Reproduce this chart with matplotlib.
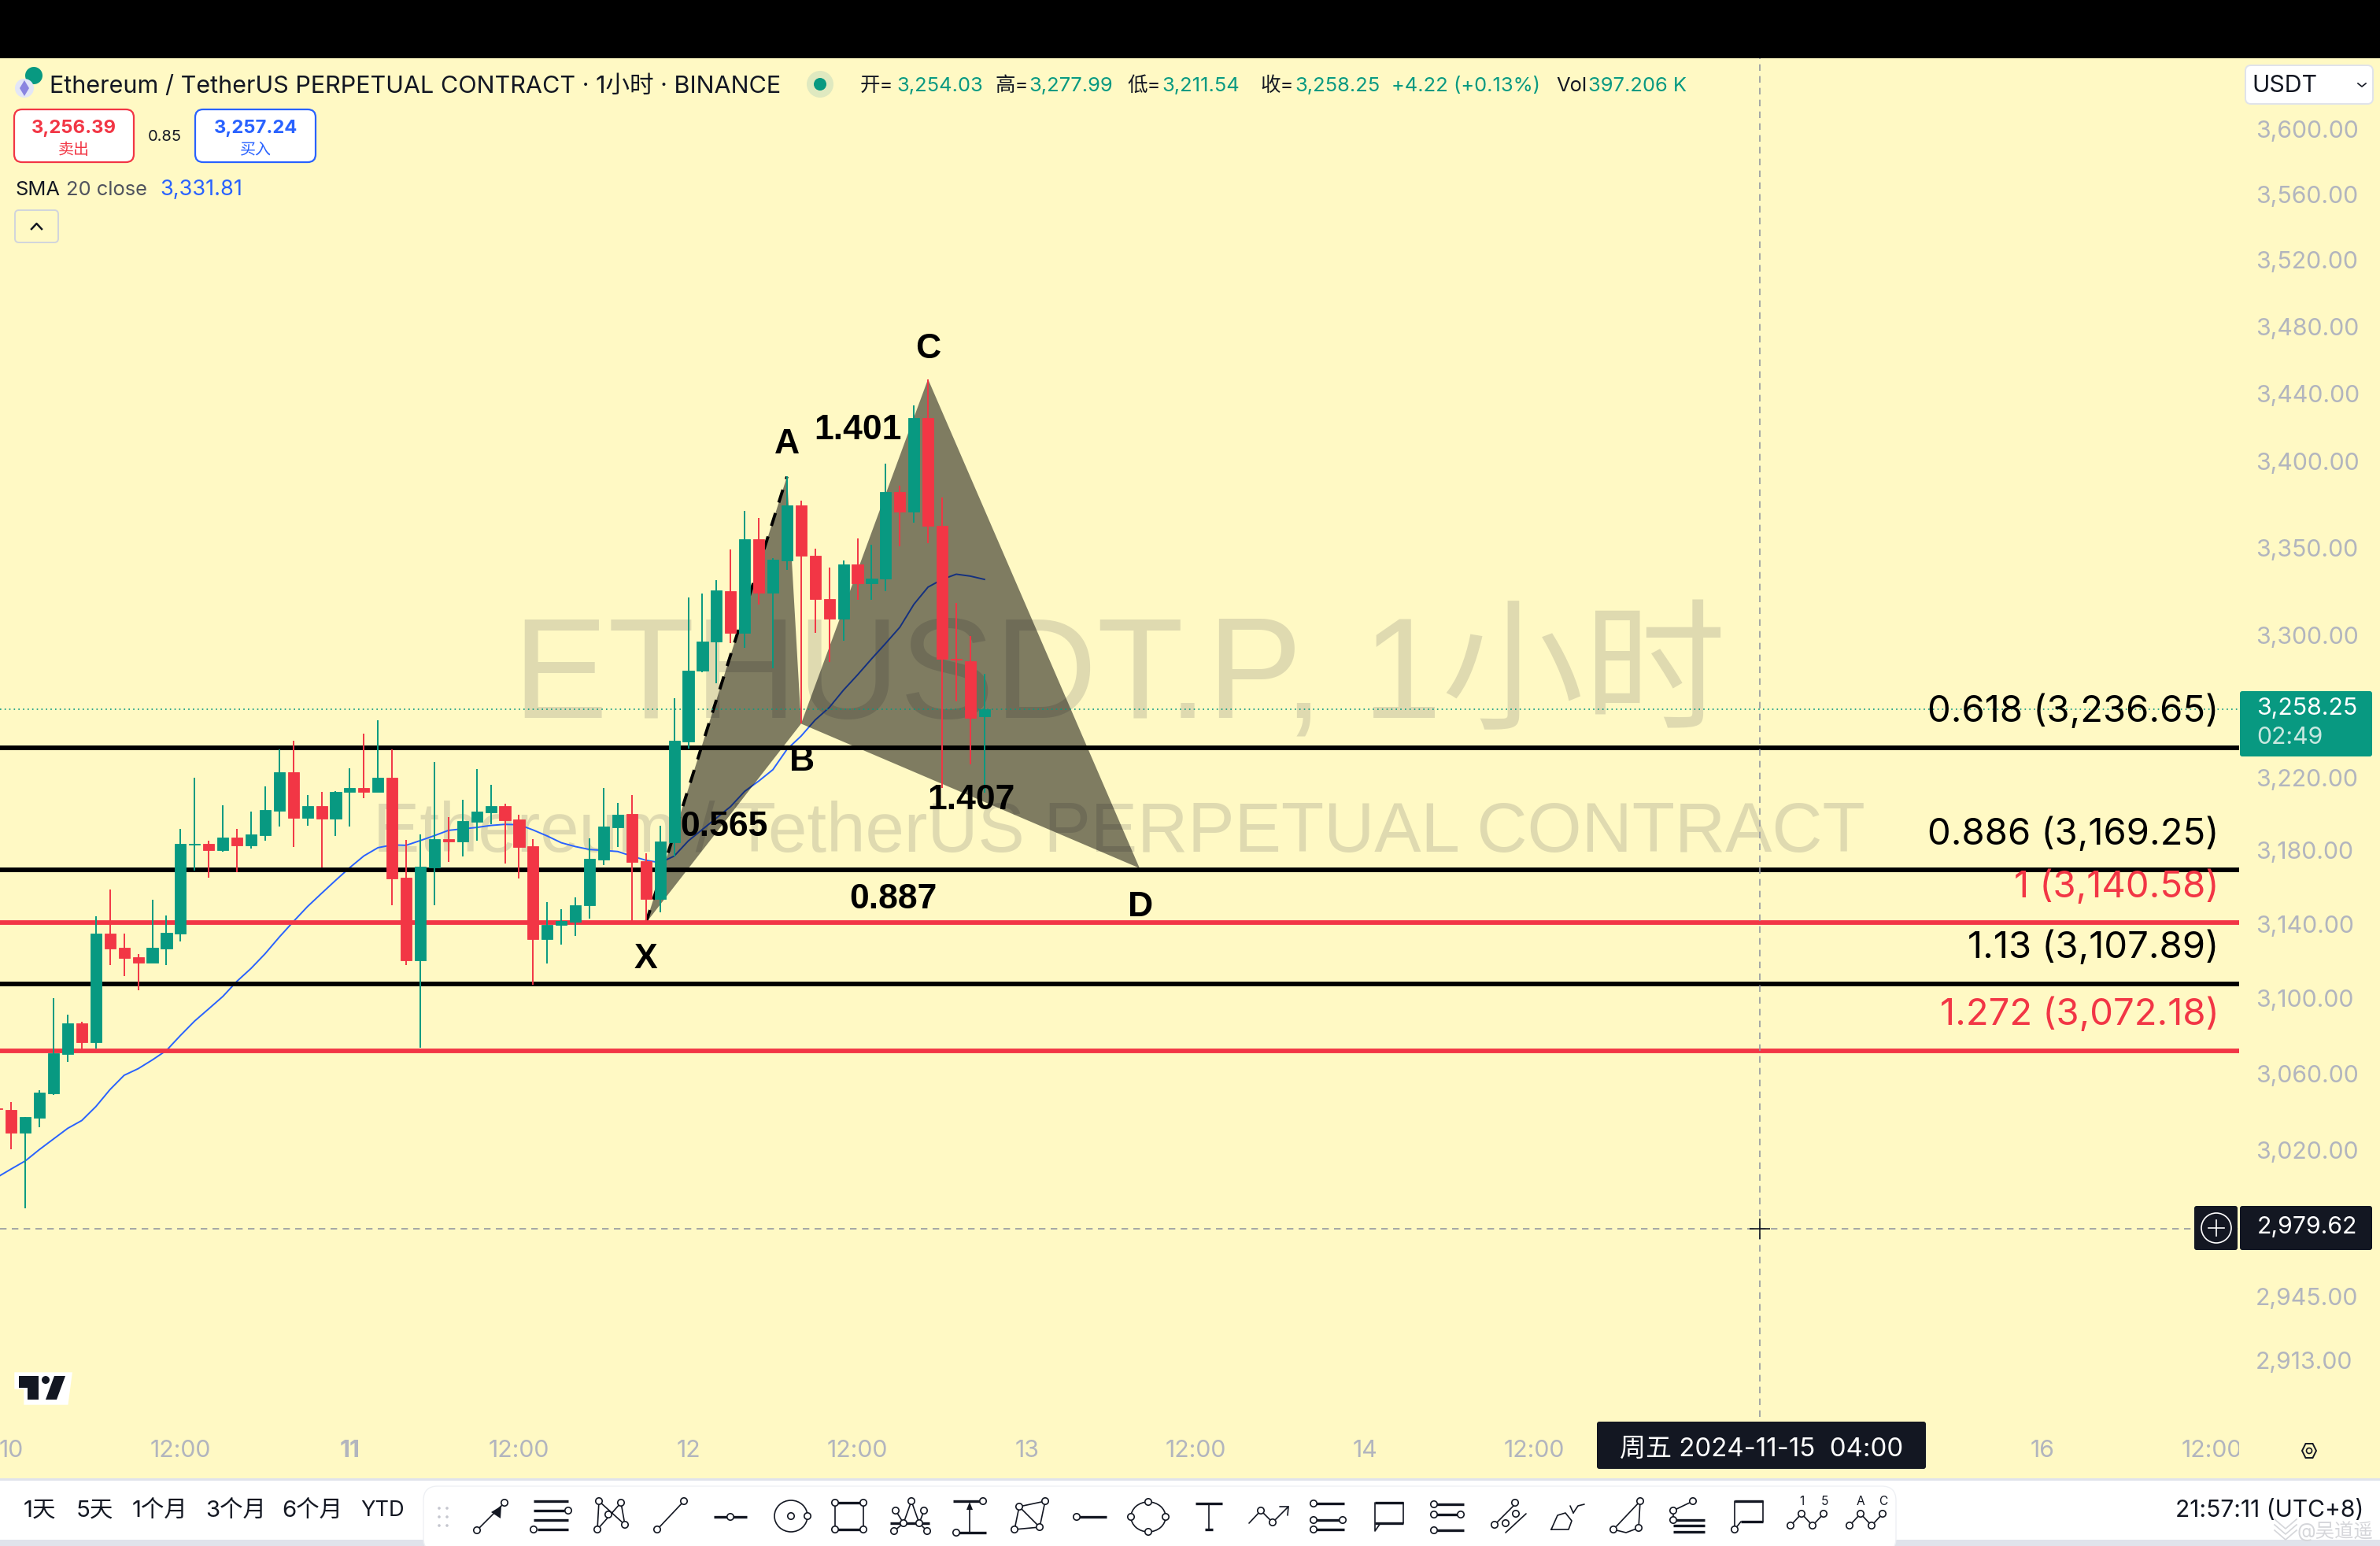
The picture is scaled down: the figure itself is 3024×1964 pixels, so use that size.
import numpy as np
import matplotlib
matplotlib.use('Agg')
import matplotlib.pyplot as plt
from matplotlib.patches import Rectangle, FancyBboxPatch, Circle, Ellipse, Polygon

plt.rcParams['font.family'] = ['Inter', 'Noto Sans CJK SC', 'DejaVu Sans']

# bars: one hour each, bar 1 = 2024-11-10 00:00
opens = [3041.8, 3041.3, 3029.1, 3037.0, 3050.0, 3070.5, 3086.8, 3076.7, 3134.8, 3127.1, 3122.1, 3119.3, 3126.8,
         3134.8, 3183.2, 3183.6, 3180.1, 3187.1, 3182.6, 3188.5, 3201.9, 3223.2, 3198.0, 3204.4, 3197.6, 3212.0,
         3214.5, 3212.4, 3220.1, 3165.0, 3120.4, 3170.6, 3186.2, 3185.0, 3195.9, 3201.1, 3204.4, 3197.0, 3182.3,
         3131.8, 3139.3, 3141.0, 3150.0, 3174.9, 3192.8, 3200.1, 3174.0, 3153.6, 3184.5, 3240.3, 3279.7, 3296.3,
         3325.2, 3301.1, 3355.0, 3324.1, 3342.7, 3374.7, 3345.3, 3320.6, 3309.5, 3340.5, 3329.8, 3332.2, 3382.4,
         3371.1, 3425.8, 3362.5, 3286.6, 3285.2, 3254.03]
highs = [3041.9, 3045.3, 3037.6, 3051.6, 3100.0, 3091.5, 3087.8, 3144.0, 3158.5, 3134.8, 3123.8, 3153.0, 3144.8,
         3191.8, 3220.1, 3185.4, 3205.0, 3191.8, 3201.5, 3215.3, 3235.9, 3240.6, 3210.6, 3212.0, 3212.8, 3225.4,
         3244.7, 3252.1, 3235.9, 3185.8, 3188.9, 3228.9, 3198.4, 3207.9, 3225.0, 3216.3, 3205.8, 3199.4, 3186.2,
         3151.7, 3147.8, 3154.4, 3186.8, 3214.5, 3206.2, 3210.4, 3178.3, 3193.6, 3264.6, 3321.5, 3323.6, 3331.5,
         3349.1, 3371.4, 3367.2, 3344.0, 3391.3, 3377.5, 3349.3, 3338.8, 3342.7, 3355.5, 3351.7, 3399.0, 3386.2,
         3433.2, 3448.6, 3379.1, 3318.4, 3299.5, 3277.99]
lows = [3041.3, 3020.5, 2990.1, 3031.9, 3049.1, 3066.5, 3072.9, 3073.5, 3118.0, 3111.8, 3104.3, 3119.0, 3118.0,
        3130.5, 3168.9, 3165.2, 3179.5, 3167.9, 3180.9, 3185.4, 3193.1, 3181.7, 3193.5, 3170.6, 3187.9, 3193.1,
        3208.7, 3212.0, 3150.3, 3118.0, 3073.9, 3150.0, 3173.5, 3176.6, 3185.4, 3194.3, 3172.8, 3164.5, 3107.5,
        3118.7, 3128.8, 3133.5, 3143.1, 3171.8, 3181.9, 3140.6, 3140.6, 3146.1, 3176.9, 3236.4, 3279.2, 3273.0,
        3295.4, 3293.0, 3317.3, 3281.4, 3337.2, 3250.1, 3301.1, 3285.0, 3296.7, 3320.2, 3320.2, 3325.0, 3350.8,
        3364.7, 3352.6, 3214.2, 3262.7, 3227.3, 3211.54]
closes = [3041.4, 3029.1, 3037.6, 3050.3, 3071.1, 3086.8, 3076.7, 3134.8, 3126.8, 3121.7, 3119.3, 3127.1, 3135.2,
          3183.6, 3183.8, 3180.1, 3187.1, 3182.6, 3188.9, 3202.3, 3223.2, 3198.0, 3204.4, 3197.6, 3212.4, 3214.5,
          3212.4, 3220.1, 3164.5, 3120.4, 3171.0, 3186.2, 3185.0, 3196.3, 3201.5, 3204.4, 3196.6, 3181.9, 3131.8,
          3139.6, 3141.5, 3150.3, 3175.3, 3193.1, 3199.8, 3173.7, 3153.6, 3185.0, 3240.7, 3279.9, 3296.5, 3325.6,
          3301.1, 3355.0, 3324.1, 3343.1, 3374.7, 3345.5, 3320.4, 3309.5, 3340.5, 3329.8, 3332.2, 3382.4, 3371.1,
          3425.8, 3362.5, 3286.6, 3285.9, 3253.5, 3258.25]
sma = [3006.1, 3010.4, 3014.6, 3020.5, 3026.0, 3031.5, 3035.6, 3042.9, 3051.8, 3059.3, 3062.8, 3067.4, 3072.4,
       3080.4, 3088.0, 3094.5, 3101.1, 3109.2, 3116.1, 3124.0, 3132.9, 3141.3, 3149.4, 3156.6, 3163.7, 3170.6,
       3177.0, 3181.5, 3183.0, 3182.8, 3185.4, 3188.1, 3191.0, 3191.8, 3192.6, 3193.7, 3194.3, 3194.1, 3191.2,
       3187.9, 3184.2, 3182.1, 3180.5, 3180.0, 3179.4, 3176.9, 3174.6, 3173.3, 3176.9, 3185.2, 3191.5, 3197.8,
       3204.1, 3212.5, 3218.2, 3224.5, 3235.8, 3243.2, 3252.2, 3259.2, 3268.9, 3277.5, 3286.6, 3295.4, 3304.5,
       3317.6, 3327.4, 3331.8, 3334.8, 3333.7, 3331.81]

# harmonic pattern X, A, B, C, D
pattern_bar = [46, 56, 57, 66, 81]
pattern_price = [3140.6, 3391.3, 3250.1, 3448.6, 3170.3]

level_prices = [3236.65, 3169.25, 3140.58, 3107.89, 3072.18]
level_names = ['0.618 (3,236.65)', '0.886 (3,169.25)', '1 (3,140.58)', '1.13 (3,107.89)', '1.272 (3,072.18)']
level_red = [False, False, True, False, True]

last_price = 3258.25
cross_price = 2979.62
cross_bar = 125

price_ticks = [3600, 3560, 3520, 3480, 3440, 3400, 3350, 3300, 3220, 3180, 3140, 3100, 3060, 3020, 2945, 2913]
time_ticks = [1, 13, 25, 37, 49, 61, 73, 85, 97, 109, 145, 157]
time_labels = ['10', '12:00', '11', '12:00', '12', '12:00', '13', '12:00', '14', '12:00', '16', '12:00']

BG = '#fff9c4'
GREEN = '#089981'
RED = '#f23645'
BLUE = '#2962ff'
INK = '#131722'
AXIS = '#b2b5be'
WM = '#dfdab0'
CJK = ['Inter', 'Noto Sans CJK SC', 'DejaVu Sans']

fig = plt.figure(figsize=(15.12, 9.82), dpi=200, facecolor=BG)
ax = fig.add_axes([0, 1 - 1815 / 1964, 2845 / 3024, (1815 - 74) / 1964], facecolor=BG)
ax.set_yscale('log')
ax.set_ylim(2878.8, 3644.4)
ax.set_xlim(0.2, 158.96)
for s in ax.spines.values():
    s.set_visible(False)

ax.yaxis.tick_right()
ax.set_yticks(price_ticks)
ax.set_yticklabels([f'{p:,.2f}' for p in price_ticks], fontsize=10.9, color=AXIS)
ax.minorticks_off()
ax.set_xticks(time_ticks)
ax.set_xticklabels(time_labels, fontsize=10.9, color=AXIS)
ax.get_xticklabels()[2].set_fontweight('bold')
ax.tick_params(axis='y', length=0, pad=7.6)
ax.tick_params(axis='x', length=0, pad=5)

# big symbol watermark
ax.text(652 / 2845, 1 - (863 - 74) / 1741, 'ETHUSDT.P, 1小时', transform=ax.transAxes, fontsize=65, color=WM,
        family=['Liberation Sans', 'Noto Sans CJK SC'], ha='left', va='center', zorder=1)
ax.text(474 / 2845, 1 - (1059 - 74) / 1741, 'Ethereum / TetherUS PERPETUAL CONTRACT', transform=ax.transAxes,
        fontsize=32, color=WM, family='Liberation Sans', ha='left', va='center', zorder=1)

ax.plot(range(len(sma)), sma, color=BLUE, lw=0.7, zorder=2)

# pattern triangles
xs, ys = pattern_bar, pattern_price
ax.fill(xs[:3], ys[:3], color='black', alpha=0.5, lw=0, zorder=3)
ax.fill(xs[2:], ys[2:], color='black', alpha=0.5, lw=0, zorder=3)
ax.plot(xs[:2], ys[:2], color='black', lw=1.4, ls=(0, (4.4, 3.6)), zorder=3.5)

# fib levels
for price, name, is_red in zip(level_prices, level_names, level_red):
    col = RED if is_red else 'black'
    ax.axhline(price, color=col, lw=2.1, zorder=4)
    ax.annotate(name, xy=(1, price), xycoords=('axes fraction', 'data'), xytext=(-9.2, 16.2), textcoords='offset points',
                ha='right', va='center', fontsize=17, color=col, zorder=9)

ax.axhline(last_price, color=GREEN, lw=0.6, ls=(0, (1, 2.5)), zorder=4)

# candles
for i, (o, h, l, c) in enumerate(zip(opens, highs, lows, closes)):
    col = GREEN if c >= o else RED
    ax.vlines(i, l, h, color=col, lw=0.7, zorder=5)
    ax.bar(i, abs(c - o), bottom=min(o, c), width=0.79, color=col, edgecolor=col, lw=0.3, zorder=6)

# crosshair
ax.axvline(cross_bar, color='#9598a1', lw=0.6, ls=(0, (5, 4)), zorder=7)
ax.axhline(cross_price, color='#9598a1', lw=0.6, ls=(0, (5, 4)), zorder=7)
ax.plot([cross_bar], [cross_price], marker='+', ms=9.4, mew=0.6, color=INK, zorder=8)

# everything else sits on a pixel overlay
ui = fig.add_axes([0, 0, 1, 1], facecolor='none')
ui.set_xlim(0, 3024)
ui.set_ylim(1964, 0)
ui.axis('off')


def box(x0, y0, x1, y1, fc, ec='none', lw=0, r=0, z=2):
    if r:
        p = FancyBboxPatch((x0 + r, y0 + r), x1 - x0 - 2 * r, y1 - y0 - 2 * r, boxstyle=f'round,pad={r},rounding_size={r}',
                           fc=fc, ec=ec, lw=lw, zorder=z)
    else:
        p = Rectangle((x0, y0), x1 - x0, y1 - y0, fc=fc, ec=ec, lw=lw, zorder=z)
    ui.add_patch(p)


def label(x, y, s, size=10, color=INK, ha='left', weight='normal', family=None, z=5):
    ui.text(x, y + 3, s, fontsize=size, color=color, ha=ha, va='center', fontweight=weight, family=family or CJK, zorder=z)


box(0, 0, 3024, 74, 'black')

# pattern labels
for (x, y, s) in [(1000, 562, 'A'), (1019, 964, 'B'), (1179, 440, 'C'), (1449, 1150, 'D'), (820, 1215, 'X'),
                  (1090, 543, '1.401'), (920, 1047, '0.565'), (1234, 1014, '1.407'), (1135, 1140, '0.887')]:
    label(x, y, s, size=16, color='black', ha='center', weight='bold', family='Liberation Sans')

# header
ui.add_patch(Circle((43, 96), 11, fc='#089981', zorder=3))
ui.add_patch(Circle((31, 112), 12, fc='#e3e6f7', zorder=4))
ui.add_patch(Polygon([(31, 102), (37, 112), (31, 122), (25, 112)], fc='#8a84e0', zorder=5))
label(63, 107, 'Ethereum / TetherUS PERPETUAL CONTRACT · 1小时 · BINANCE', size=11)
ui.add_patch(Circle((1042, 107), 17, fc='#dfe9c0', zorder=3))
ui.add_patch(Circle((1042, 107), 8, fc=GREEN, zorder=4))
for x, s in [(1093, '开='), (1264, '高='), (1432, '低='), (1601, '收=')]:
    label(x, 106, s, size=9.2)
for x, s in [(1139, '3,254.03'), (1307, '3,277.99'), (1476, '3,211.54'), (1645, '3,258.25'), (1768, '+4.22 (+0.13%)')]:
    label(x, 106, s, size=9.2, color=GREEN)
label(1977, 106, 'Vol', size=9.2)
label(2018, 106, '397.206 K', size=9.2, color=GREEN)

box(18, 139, 170, 206, 'white', ec=RED, lw=0.8, r=10)
label(94, 160, '3,256.39', size=8.6, color=RED, ha='center', weight='bold')
label(94, 188, '卖出', size=7.2, color=RED, ha='center')
label(209, 171, '0.85', size=7.2, ha='center')
box(248, 139, 401, 206, 'white', ec=BLUE, lw=0.8, r=10)
label(325, 160, '3,257.24', size=8.6, color=BLUE, ha='center', weight='bold')
label(325, 188, '买入', size=7.2, color=BLUE, ha='center')

label(19, 238, 'SMA', size=9.2)
label(84, 238, '20 close', size=9.2, color='#50535e')
label(203, 238, '3,331.81', size=9.8, color=BLUE)
box(19, 267, 74, 308, BG, ec='#d1d4dc', lw=0.7, r=5)
ui.plot([40, 46.5, 53], [291, 284, 291], color=INK, lw=0.9, zorder=5)

# right scale widgets
box(2853, 83, 3015, 132, 'white', ec='#e0e3eb', lw=0.7, r=7)
label(2861, 106, 'USDT', size=10.9)
ui.plot([2996, 3001, 3006], [106, 110, 106], color=INK, lw=0.6, zorder=5)

box(2846, 878, 3014, 961, GREEN, r=3)
label(2867, 897, '3,258.25', size=10.9, color='white')
label(2867, 934, '02:49', size=10.9, color='#c8e8e0')

box(2788, 1532, 2843, 1588, INK, r=3)
box(2846, 1532, 3014, 1588, INK, r=3)
ui.add_patch(Circle((2816, 1560), 19, fc='none', ec='white', lw=0.6, zorder=5))
ui.plot([2806, 2826], [1560, 1560], color='white', lw=0.6, zorder=5)
ui.plot([2816, 2816], [1550, 1570], color='white', lw=0.6, zorder=5)
label(2868, 1556, '2,979.62', size=10.9, color='white')

# hides the end of the clipped time label
box(2845, 1815, 3024, 1878, BG)
ui.add_patch(Polygon([(2925, 1843), (2929.5, 1834), (2938.5, 1834), (2943, 1843), (2938.5, 1852), (2929.5, 1852)],
                     fc='none', ec=INK, lw=0.7, zorder=5))
ui.add_patch(Circle((2934, 1843), 3.5, fc='none', ec=INK, lw=0.6, zorder=5))

box(2029, 1806, 2447, 1866, INK, r=3, z=6)
label(2238, 1838, '周五 2024-11-15  04:00', size=11.9, color='white', ha='center', z=7)

# TradingView mark
ui.add_patch(Polygon([(20, 1745), (90, 1745), (85, 1783), (32, 1783), (32, 1763), (20, 1763)], fc='white', ec='white', lw=1.2, zorder=3))
ui.add_patch(Polygon([(24, 1748), (49, 1748), (49, 1778), (35, 1778), (35, 1763), (24, 1763)], fc=INK, zorder=4))
ui.add_patch(Circle((58, 1753), 5, fc=INK, zorder=4))
ui.add_patch(Polygon([(69, 1748), (83, 1748), (72, 1778), (58, 1778)], fc=INK, zorder=4))

# bottom strip
box(0, 1878, 3024, 1964, 'white')
box(0, 1878, 3024, 1881, '#e0e3eb')
box(0, 1956, 3024, 1964, '#e0e3eb')
for x, s in [(50, '1天'), (120, '5天'), (203, '1个月'), (300, '3个月'), (397, '6个月')]:
    label(x, 1916, s, size=10.6, ha='center')
label(486, 1916, 'YTD', size=9.8, ha='center')
label(3003, 1916, '21:57:11 (UTC+8)', size=10.8, ha='right')
box(538, 1888, 2409, 1972, 'white', ec='#eef0f4', lw=0.5, r=18, z=3)
for gx in (558, 568):
    for gy in (1916, 1927, 1938):
        ui.add_patch(Circle((gx, gy), 1.8, fc='#c4c6ce', zorder=5))
box(0, 1964, 3024, 1970, 'white', z=4)

# repost mark, bottom right
for dy in (-9, -2, 5):
    ui.plot([2890, 2904, 2918], [1939 + dy, 1951 + dy, 1939 + dy], color='#d5d6da', lw=0.6, zorder=5)
label(3015, 1942, '@吴道遥', size=8.8, color='#d5d6da', ha='right')


def icon(cx, lines=(), thick=(), handles=(), cy=1927):
    for pts in lines:
        a = np.array(pts, dtype=float)
        ui.plot(cx + a[:, 0], cy + a[:, 1], color=INK, lw=0.6, zorder=5, solid_capstyle='round')
    for pts in thick:
        a = np.array(pts, dtype=float)
        ui.plot(cx + a[:, 0], cy + a[:, 1], color=INK, lw=1.2, zorder=5, solid_capstyle='butt')
    for hx, hy in handles:
        ui.add_patch(Circle((cx + hx, cy + hy), 4.2, fc='white', ec=INK, lw=0.6, zorder=6))


icon(622, [[(-16, 17), (19, -18)]], handles=[(-16, 17), (19, -18)])
ui.add_patch(Polygon([(622 + 15, 1927 - 14), (622 + 14, 1927 + 2), (622 + 2, 1927 - 6)], fc=INK, zorder=5))
icon(700, thick=[[(-22, -20), (22, -20)], [(-22, -8), (17, -8)], [(-22, 4), (22, 4)], [(-17, 16), (22, 16)]],
     handles=[(22, -8), (-22, 16)])
icon(777, [[(-18, 16), (-16, -20), (17, 10), (12, -18), (-18, 16)]], handles=[(-16, -20), (12, -18), (-4, -3), (17, 10), (-18, 16)])
icon(852, [[(-17, 16), (17, -20)]], handles=[(-17, 16), (17, -20)])
icon(928, thick=[[(-21, 0), (21, 0)]], handles=[(0, 0)])
ui.add_patch(Ellipse((1005, 1926), 42, 40, fc='none', ec=INK, lw=0.6, zorder=5))
icon(1005, handles=[(0, -1), (21, -1)])
icon(1079, [[(-18, -18), (-18, 16)], [(18, -18), (18, 16)]], thick=[[(-18, -18), (18, -18)], [(-18, 16), (18, 16)]],
     handles=[(-18, -18), (18, -18), (-18, 16), (18, 16)])
icon(1156, [[(-20, 18), (-8, 8), (2, -20), (12, 8), (22, 18)], [(-18, -8), (-8, 8)], [(18, -8), (12, 8)]],
     thick=[[(-25, 8), (25, 8)]], handles=[(2, -20), (-18, -8), (18, -8), (-8, 8), (12, 8), (-20, 18), (22, 18)])
icon(1232, [[(0, 20), (0, -12)]], thick=[[(-21, -20), (14, -20)], [(-14, 20), (21, 20)]], handles=[(17, -20), (-17, 20)])
ui.add_patch(Polygon([(1232, 1908), (1228, 1918), (1236, 1918)], fc=INK, zorder=5))
icon(1308, [[(-13, -13), (20, -20), (13, 13), (-19, 16), (-13, -13), (13, 13)]], handles=[(-13, -13), (20, -20), (13, 13), (-19, 16)])
icon(1385, thick=[[(-17, 0), (21, 0)]], handles=[(-17, 0)])
ui.add_patch(Ellipse((1459, 1927), 44, 38, fc='none', ec=INK, lw=0.6, zorder=5))
icon(1459, handles=[(0, -19), (0, 19), (-22, 0), (22, 0)])
icon(1536, [[(0, -17), (0, 16)]], thick=[[(-17, -17), (17, -17)], [(-5, 16), (5, 16)]])
icon(1612, [[(-25, 8), (-10, -8), (5, 7), (25, -13)], [(14, -13), (25, -13), (24, -2)]], handles=[(5, 7), (-10, -8)])
icon(1687, thick=[[(-18, -17), (21, -17)], [(-18, 4), (21, 4)], [(-18, 16), (21, 16)]], handles=[(-18, -17), (-18, 4), (-18, 16), (19, 4)])
icon(1764, thick=[[(-17, -18), (19, -18)], [(-17, 8), (19, 8)]], lines=[[(-17, -18), (-17, 18), (-10, 8)], [(19, -18), (19, 8)]])
icon(1838, thick=[[(-16, -16), (22, -16)], [(-16, -3), (18, -3)], [(-16, 17), (22, 17)]], handles=[(-16, -16), (-16, -3), (18, -3), (-16, 17)])
icon(1913, [[(-14, 10), (14, -18)], [(0, 20), (26, -4)]], handles=[(-14, 10), (12, -18), (0, 8), (13, -4)])
icon(1991, [[(-20, 16), (-12, -2), (-2, -5), (6, 5), (2, 16), (-20, 16)], [(8, -5), (14, -14), (22, -16)], [(8, -5), (4, -14)]])
icon(2068, [[(-18, 16), (16, -20), (14, 14), (-2, 20), (-18, 16)]], handles=[(16, -20), (-18, 16), (14, 14)])
icon(2144, [[(7, -20), (-18, -8), (-18, 4)]], thick=[[(-18, 4), (22, 4)], [(-18, 11), (22, 11)], [(-18, 19), (22, 19)]], handles=[(7, -20), (-18, -8), (-18, 4)])
icon(2221, thick=[[(-17, -20), (19, -20)], [(-9, 6), (19, 6)]], lines=[[(-17, -20), (-17, 16)], [(19, -20), (19, 6)], [(-17, 16), (-9, 6)]], handles=[(-17, 16)])
icon(2297, [[(-22, 11), (-8, -4), (6, 11), (20, -4)]], handles=[(-22, 11), (-8, -4), (6, 11), (20, -4)])
label(2289, 1904, '1', size=5.6, ha='center')
label(2318, 1904, '5', size=5.6, ha='center')
icon(2372, [[(-22, 11), (-8, -4), (6, 11), (20, -4)]], handles=[(-22, 11), (-8, -4), (6, 11), (20, -4)])
label(2364, 1904, 'A', size=5.6, ha='center')
label(2393, 1904, 'C', size=5.6, ha='center')

fig.savefig('out.png', dpi=200, facecolor=BG)
